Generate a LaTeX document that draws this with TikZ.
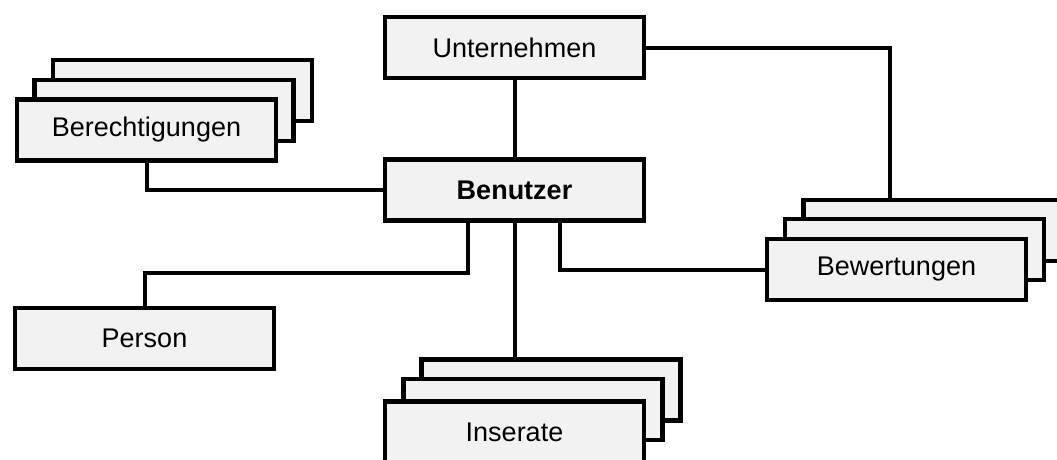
\documentclass[tikz,border=0pt]{standalone}
\usepackage{fontspec}
\setmainfont{Liberation Sans}
\definecolor{boxfill}{HTML}{F2F2F2}
\tikzset{
  entity/.style={draw=black, fill=boxfill, line width=4.5pt,
    minimum width=259pt, minimum height=61pt, inner sep=0pt,
    font=\fontsize{27}{32}\selectfont},
  link/.style={draw=black, line width=4pt}
}
\begin{document}
\begin{tikzpicture}[x=1pt,y=-1pt]
\useasboundingbox (0,0) rectangle (1057,459);

% Benutzer and its direct neighbours
\node[entity] (unt) at (514.5,47.5) {Unternehmen};
\node[entity, font=\fontsize{27}{32}\selectfont\bfseries] (ben) at (514.5,190) {Benutzer};
\node[entity] (pers) at (144.5,338.5) {Person};

% Berechtigungen: stack of three cards
\node[entity] (ber3) at (182.5,90.5) {};
\node[entity] (ber2) at (164,110.5) {};
\node[entity] (ber) at (146.5,130) {Berechtigungen};

% Bewertungen: stack of three cards
\node[entity] (bew3) at (933,230.5) {};
\node[entity] (bew2) at (914.5,249.5) {};
\node[entity] (bew) at (896.5,269.5) {Bewertungen};

% Inserate: stack of three cards
\node[entity] (ins3) at (551,390) {};
\node[entity] (ins2) at (533,409.5) {};
\node[entity] (ins) at (514.5,432) {Inserate};

% connectors
\coordinate (bewtop) at (890,0);
\coordinate (perskink) at (0,273);
\coordinate (bena) at (468,0);
\coordinate (benb) at (560,0);

\draw[link] (unt.south) -- (ben.north);
\draw[link] (ber.south) |- (ben.west);
\draw[link] (unt.east) -| (bewtop |- bew3.north);
\draw[link] (pers.north) -- (pers.north |- perskink) -| (bena |- ben.south);
\draw[link] (benb |- ben.south) |- (bew.west);
\draw[link] (ben.south) -- (ins3.north -| ben.south);
\end{tikzpicture}
\end{document}
